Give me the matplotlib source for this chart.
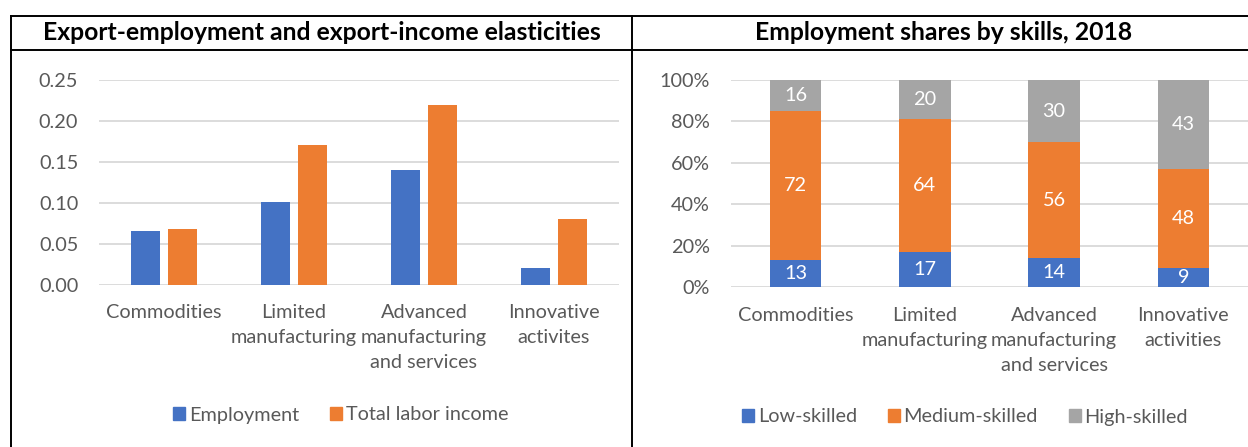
import matplotlib
matplotlib.use("Agg")
import matplotlib.pyplot as plt
from matplotlib.lines import Line2D
from matplotlib.patches import Patch
import numpy as np

plt.rcParams['font.family'] = ['Lato', 'DejaVu Sans']

# Left panel: elasticities
elast_categories = ["Commodities", "Limited\nmanufacturing",
                    "Advanced\nmanufacturing\nand services", "Innovative\nactivites"]
employment = [0.066, 0.101, 0.140, 0.021]
labor_income = [0.068, 0.171, 0.219, 0.081]
elast_ticks = [0.00, 0.05, 0.10, 0.15, 0.20, 0.25]

# Right panel: employment shares by skill
skill_categories = ["Commodities", "Limited\nmanufacturing",
                    "Advanced\nmanufacturing\nand services", "Innovative\nactivities"]
low_skilled = [13, 17, 14, 9]
medium_skilled = [72, 64, 56, 48]
high_skilled = [16, 20, 30, 43]
share_ticks = [0, 20, 40, 60, 80, 100]

BLUE = "#4472C4"
ORANGE = "#ED7D31"
GRAY = "#A5A5A5"
TXT = "#595959"
GRID = "#D9D9D9"
FS = 14.3

W, H = 1248, 447
fig = plt.figure(figsize=(W / 100, H / 100), dpi=100)


def px_axes(x0, x1, y0, y1):
    return fig.add_axes([x0 / W, 1 - y1 / H, (x1 - x0) / W, (y1 - y0) / H])


def style(ax):
    for s in ax.spines.values():
        s.set_visible(False)
    ax.tick_params(length=0, colors=TXT, labelsize=FS)
    ax.yaxis.grid(True, color=GRID, linewidth=1.3)
    ax.set_axisbelow(True)
    ax.set_xlim(-0.5, 3.5)


# ---- left chart ----
ax1 = px_axes(99, 619, 80, 285)
x = np.arange(len(elast_categories))
bw = 0.23
ax1.bar(x - 0.142, employment, bw, color=BLUE)
ax1.bar(x + 0.142, labor_income, bw, color=ORANGE)
ax1.set_ylim(0, 0.25)
ax1.set_yticks(elast_ticks)
ax1.set_yticklabels([f"{v:.2f}" for v in elast_ticks])
ax1.set_xticks(x)
ax1.set_xticklabels(elast_categories, va="top", linespacing=1.58)
style(ax1)
ax1.tick_params(axis="x", pad=13.5)
ax1.tick_params(axis="y", pad=15)

# ---- right chart ----
ax2 = px_axes(731, 1248, 80, 287)
x2 = np.arange(len(skill_categories))
bw2 = 0.40
low = np.array(low_skilled)
med = np.array(medium_skilled)
high = np.array(high_skilled)
b1 = ax2.bar(x2, low, bw2, color=BLUE)
b2 = ax2.bar(x2, med, bw2, bottom=low, color=ORANGE)
b3 = ax2.bar(x2, high, bw2, bottom=low + med, color=GRAY)
for bars, vals in ((b1, low), (b2, med), (b3, high)):
    ax2.bar_label(bars, labels=[str(v) for v in vals], label_type="center",
                  color="white", fontsize=FS)
ax2.set_ylim(0, 100)
ax2.set_yticks(share_ticks)
ax2.set_yticklabels([f"{v}%" for v in share_ticks])
ax2.set_xticks(x2)
ax2.set_xticklabels(skill_categories, va="top", linespacing=1.58)
style(ax2)
ax2.tick_params(axis="x", pad=14.5)
ax2.tick_params(axis="y", pad=15)

# ---- legends ----
leg_kw = dict(frameon=False, fontsize=FS, handlelength=0.6, handleheight=0.6,
              handletextpad=0.2, columnspacing=1.55, labelcolor=TXT, loc="center")
fig.legend(handles=[Patch(color=BLUE, label="Employment"),
                    Patch(color=ORANGE, label="Total labor income")],
           ncol=2, bbox_to_anchor=(341 / W, 1 - 415 / H), **leg_kw)
fig.legend(handles=[Patch(color=BLUE, label="Low-skilled"),
                    Patch(color=ORANGE, label="Medium-skilled"),
                    Patch(color=GRAY, label="High-skilled")],
           ncol=3, bbox_to_anchor=(965 / W, 1 - 417 / H), **leg_kw)

# ---- titles ----
fig.text(322 / W, 1 - 33 / H, "Export-employment and export-income elasticities",
         ha="center", va="center", fontsize=17.8, fontweight="bold", color="black")
fig.text(944 / W, 1 - 33 / H, "Employment shares by skills, 2018",
         ha="center", va="center", fontsize=17.8, fontweight="bold", color="black")

# ---- table frame ----
def hline(y, x0, x1):
    fig.add_artist(Line2D([x0 / W, x1 / W], [1 - y / H, 1 - y / H],
                          color="black", linewidth=1.4))


def vline(x, y0, y1):
    fig.add_artist(Line2D([x / W, x / W], [1 - y0 / H, 1 - y1 / H],
                          color="black", linewidth=1.4))


hline(16, 11, W)
hline(50, 11, W)
vline(11, 16, H)
vline(632, 16, H)

fig.savefig("out.png", dpi=100)
